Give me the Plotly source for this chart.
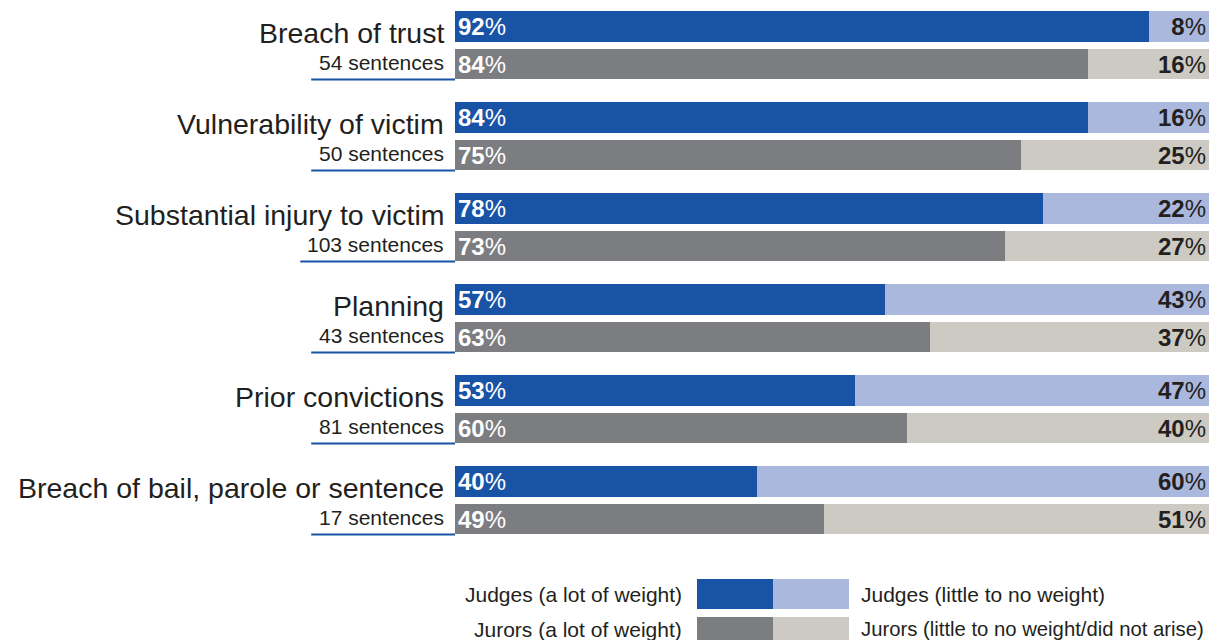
import plotly.graph_objects as go

categories = ["Breach of trust", "Vulnerability of victim", "Substantial injury to victim",
              "Planning", "Prior convictions", "Breach of bail, parole or sentence"]
sentences = [54, 50, 103, 43, 81, 17]
judges_lot = [92, 84, 78, 57, 53, 40]
judges_little = [8, 16, 22, 43, 47, 60]
jurors_lot = [84, 75, 73, 63, 60, 49]
jurors_little = [16, 25, 27, 37, 40, 51]
legend_labels = ["Judges (a lot of weight)", "Judges (little to no weight)",
                 "Jurors (a lot of weight)", "Jurors (little to no weight/did not arise)"]

C_JD = "#1853a5"
C_JL = "#aab8dd"
C_RD = "#7c7d81"
C_RL = "#cdcac4"
TXT = "#231f20"
FONT = "Liberation Sans, Arial, sans-serif"

W, H = 1209, 640
ML = 455
GAP = 91.0          # px per group
TOP = 45.25         # px centre of first group
OFF = 0.206
BW = 0.34

idx = list(range(len(categories)))
yj = [i - OFF for i in idx]
yr = [i + OFF for i in idx]

def txt(vals):
    return [f"<b>{v}</b>%" for v in vals]

fig = go.Figure()
fig.add_trace(go.Bar(y=yj, x=judges_lot, orientation="h", width=BW, marker=dict(color=C_JD, line_width=0),
                     text=txt(judges_lot), textposition="inside", insidetextanchor="start", textangle=0,
                     textfont=dict(color="white", size=24, family=FONT), hoverinfo="skip"))
fig.add_trace(go.Bar(y=yj, x=judges_little, orientation="h", width=BW, marker=dict(color=C_JL, line_width=0),
                     text=txt(judges_little), textposition="inside", insidetextanchor="end", textangle=0,
                     textfont=dict(color=TXT, size=24, family=FONT), hoverinfo="skip"))
fig.add_trace(go.Bar(y=yr, x=jurors_lot, orientation="h", width=BW, marker=dict(color=C_RD, line_width=0),
                     text=txt(jurors_lot), textposition="inside", insidetextanchor="start", textangle=0,
                     textfont=dict(color="white", size=24, family=FONT), hoverinfo="skip"))
fig.add_trace(go.Bar(y=yr, x=jurors_little, orientation="h", width=BW, marker=dict(color=C_RL, line_width=0),
                     text=txt(jurors_little), textposition="inside", insidetextanchor="end", textangle=0,
                     textfont=dict(color=TXT, size=24, family=FONT), hoverinfo="skip"))

ann = []
shapes = []
for i, (cat, n) in enumerate(zip(categories, sentences)):
    ann.append(dict(xref="paper", yref="y", x=0, y=i - OFF + 0.07, xanchor="right", yanchor="middle",
                    xshift=-9, text=cat, showarrow=False, font=dict(size=28.5, color=TXT, family=FONT)))
    lab = f"{n} sentences"
    ann.append(dict(xref="paper", yref="y", x=0, y=i + OFF - 0.015, xanchor="right", yanchor="middle",
                    xshift=-9, text=lab, showarrow=False, font=dict(size=21, color=TXT, family=FONT)))
    lw = len(lab) * 10.9 + 13
    shapes.append(dict(type="line", xref="paper", yref="y", x0=-lw / (W - ML), x1=0,
                       y0=i + OFF + BW / 2, y1=i + OFF + BW / 2, line=dict(color=C_JD, width=2)))

# legend
PW = W - ML
def px(x):
    return (x - ML) / PW
def py(y):
    return 1 - y / H
for (y0, y1), (c1, c2) in [((579, 609), (C_JD, C_JL)), ((617, 648), (C_RD, C_RL))]:
    shapes.append(dict(type="rect", xref="paper", yref="paper", x0=px(697), x1=px(773), y0=py(y1), y1=py(y0),
                       fillcolor=c1, line_width=0, layer="above"))
    shapes.append(dict(type="rect", xref="paper", yref="paper", x0=px(773), x1=px(849), y0=py(y1), y1=py(y0),
                       fillcolor=c2, line_width=0, layer="above"))
for lab, x, anchor, y, fs in [(legend_labels[0], 684, "right", 594, 21), (legend_labels[1], 859, "left", 594, 21),
                              (legend_labels[2], 684, "right", 629, 21), (legend_labels[3], 859, "left", 629, 20.3)]:
    ann.append(dict(xref="paper", yref="paper", x=px(x), y=py(y), xanchor=anchor, yanchor="middle",
                    text=lab, showarrow=False, font=dict(size=fs, color=TXT, family=FONT)))

fig.update_layout(
    width=W, height=H, margin=dict(l=ML, r=0, t=0, b=0),
    barmode="stack", bargap=0, showlegend=False,
    paper_bgcolor="white", plot_bgcolor="white",
    xaxis=dict(range=[0, 100], visible=False, fixedrange=True),
    yaxis=dict(range=[(H - TOP) / GAP, -TOP / GAP], visible=False, fixedrange=True),
    annotations=ann, shapes=shapes,
    uniformtext=dict(minsize=24, mode="show"),
)
fig.write_html("out.html", config={"displayModeBar": False},
               post_script="document.body.style.margin='0';document.body.style.overflow='hidden';")
